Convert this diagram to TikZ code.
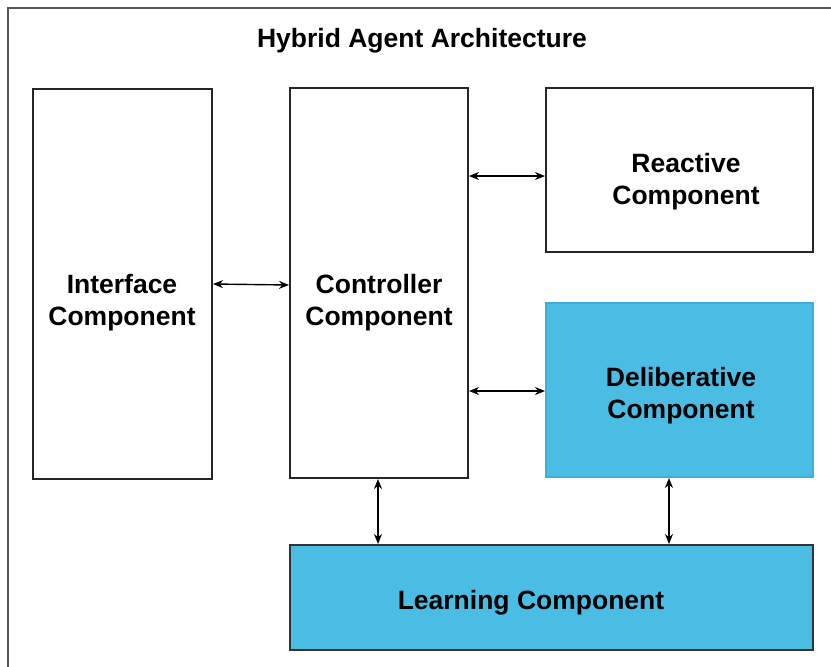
\documentclass[tikz,border=0pt]{standalone}
\usepackage{fontspec}
\setmainfont{Liberation Sans}
\usetikzlibrary{arrows.meta}
\definecolor{skyfill}{HTML}{4BBDE4}
\definecolor{skyedge}{HTML}{3DAFD9}
\definecolor{frameg}{HTML}{555555}
\tikzset{
  box/.style={draw=black!85, line width=1.3pt, fill=white},
  bluebox/.style={draw=skyedge, line width=1.3pt, fill=skyfill},
  bluedark/.style={draw=black!80, line width=1.5pt, fill=skyfill},
  lbl/.style={font=\fontsize{26.5}{32}\selectfont\bfseries, align=center, inner sep=0pt},
  link/.style={line width=1.4pt, {Stealth[length=10pt,width=8pt]}-{Stealth[length=10pt,width=8pt]}}
}
\begin{document}
\begin{tikzpicture}[x=1pt,y=-1pt]
\useasboundingbox (0,0) rectangle (831,667);
\fill[white] (0,0) rectangle (831,667);
\draw[frameg, line width=2pt] (8,667) -- (8,8) -- (831,8);
\node[lbl] (title) at (422,41) {Hybrid Agent Architecture};
% boxes
\draw[box] (33,89) rectangle (212,479);
\draw[box] (290,88) rectangle (468,478);
\draw[box] (546,88) rectangle (813,252);
\draw[bluebox] (546,303) rectangle (813,477);
\draw[bluedark] (290,545) rectangle (813,650);
% named anchor coordinates
\coordinate (ifR) at (213,284);
\coordinate (ctL) at (289,285);
\coordinate (ctR1) at (469,176);
\coordinate (reL) at (545,176);
\coordinate (ctR2) at (469,391);
\coordinate (deL) at (545,391);
\coordinate (ctB) at (378,479);
\coordinate (leT1) at (378,544);
\coordinate (deB) at (669,478);
\coordinate (leT2) at (669,544);
% labels
\node[lbl] (iface) at (122,303) {Interface\\Component};
\node[lbl] (ctrl) at (379,303) {Controller\\Component};
\node[lbl] (react) at (686,182) {Reactive\\Component};
\node[lbl] (delib) at (681,396) {Deliberative\\Component};
\node[lbl] (learn) at (531,603) {Learning Component};
% connectors
\draw[link] (ifR) -- (ctL);
\draw[link] (ctR1) -- (reL);
\draw[link] (ctR2) -- (deL);
\draw[link] (ctB) -- (leT1);
\draw[link] (deB) -- (leT2);
\end{tikzpicture}
\end{document}
